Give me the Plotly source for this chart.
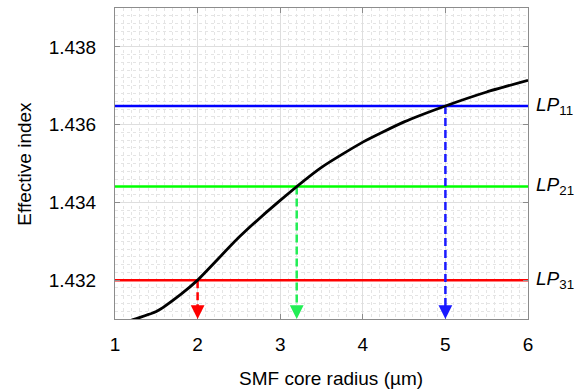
import plotly.graph_objects as go

# Curve data
radius = [1.2, 1.5, 1.8, 2.0, 2.5, 3.0, 3.5, 4.0, 4.5, 5.0, 5.5, 6.0]
neff = [1.43097, 1.43119, 1.43164, 1.43200, 1.43310, 1.43405, 1.43490,
        1.43555, 1.43607, 1.43648, 1.43684, 1.43714]

# Mode index levels and their crossing radii
mode_names = ["LP11", "LP21", "LP31"]
mode_labels = ["<i>LP</i><sub>11</sub>", "<i>LP</i><sub>21</sub>", "<i>LP</i><sub>31</sub>"]
mode_index = [1.43648, 1.43441, 1.43200]
mode_radius = [5.0, 3.2, 2.0]
mode_colors = ["#0000ff", "#00ff00", "#ff0000"]
arrow_colors = ["#1a1aff", "#22ee55", "#ff0000"]

x_range = [1, 6]
y_range = [1.431, 1.439]
y_ticks = [1.432, 1.434, 1.436, 1.438]
x_ticks = [1, 2, 3, 4, 5, 6]

FONT = "Liberation Sans, Arial, sans-serif"

fig = go.Figure()

# horizontal mode lines
for name, yv, c in zip(mode_names, mode_index, mode_colors):
    fig.add_trace(go.Scatter(x=x_range, y=[yv, yv], mode="lines",
                             line=dict(color=c, width=2.5), name=name,
                             showlegend=False, hoverinfo="skip"))

# dashed drop lines
for name, xv, yv, c in zip(mode_names, mode_radius, mode_index, arrow_colors):
    fig.add_trace(go.Scatter(x=[xv, xv], y=[yv, y_range[0] + 0.0002], mode="lines",
                             line=dict(color=c, width=2.5, dash="8px,4px"),
                             showlegend=False, hoverinfo="skip"))
    fig.add_annotation(x=xv, y=y_range[0], xref="x", yref="y",
                       ax=0, ay=-14, text="", showarrow=True,
                       arrowhead=2, arrowsize=1.1, arrowwidth=2.5,
                       arrowcolor=c, standoff=0)

# curve
fig.add_trace(go.Scatter(x=radius, y=neff, mode="lines",
                         line=dict(color="black", width=2.8, shape="spline", smoothing=0.5),
                         showlegend=False, hoverinfo="skip"))

# mode labels
for lab, yv in zip(mode_labels, mode_index):
    fig.add_annotation(x=1.015, y=yv, xref="paper", yref="y", text=lab,
                       showarrow=False, xanchor="left", yanchor="middle",
                       font=dict(family=FONT, size=19, color="black"))

# axis titles
fig.add_annotation(x=0.523, y=-0.19, xref="paper", yref="paper",
                   text="SMF core radius (µm)", showarrow=False,
                   xanchor="center", yanchor="middle",
                   font=dict(family=FONT, size=19, color="black"))
fig.add_annotation(x=-0.22, y=0.5, xref="paper", yref="paper",
                   text="Effective index", showarrow=False, textangle=-90,
                   xanchor="center", yanchor="middle",
                   font=dict(family=FONT, size=19, color="black"))

axis_common = dict(
    showline=True, linecolor="#8c8c8c", linewidth=1, mirror="ticks",
    ticks="inside", ticklen=5, tickcolor="#8c8c8c",
    showgrid=True, gridcolor="#dedede", gridwidth=1,
    zeroline=False,
    tickfont=dict(family=FONT, size=19, color="black"),
)

fig.update_xaxes(range=x_range, tickvals=x_ticks, ticklabelstandoff=8,
                 minor=dict(dtick=0.1, showgrid=True, gridcolor="#e4e4e4",
                            griddash="dot", gridwidth=1, ticks=""),
                 **axis_common)
fig.update_yaxes(range=y_range, tickvals=y_ticks, tickformat=".3f",
                 ticklabelstandoff=14,
                 minor=dict(dtick=0.0002, tick0=1.431, showgrid=True, gridcolor="#e4e4e4",
                            griddash="dot", gridwidth=1, ticks=""),
                 **axis_common)

fig.update_layout(
    width=578, height=390,
    margin=dict(l=115, r=50, t=8, b=71),
    plot_bgcolor="white", paper_bgcolor="white",
    font=dict(family=FONT, size=19, color="black"),
)

fig.write_html("out.html")
